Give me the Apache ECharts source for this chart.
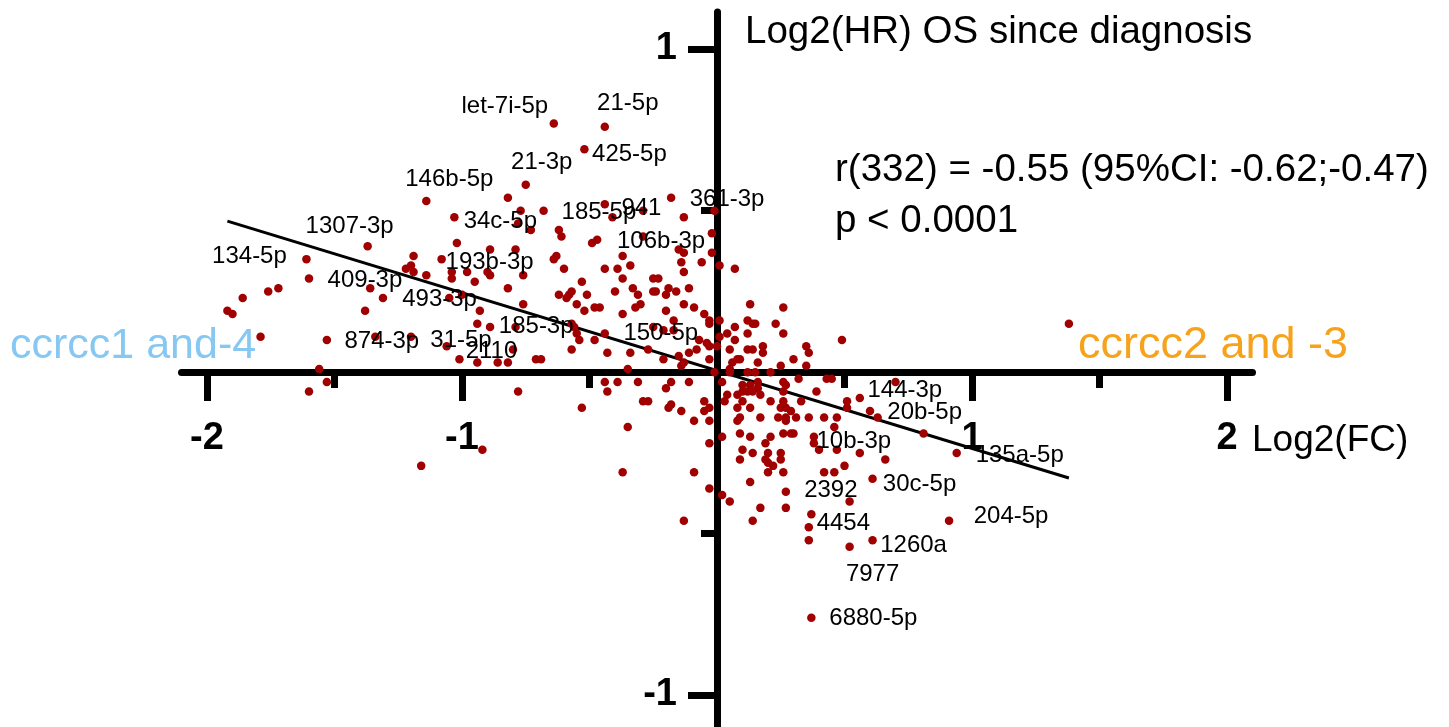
<!DOCTYPE html>
<html>
<head>
<meta charset="utf-8">
<script src="https://cdn.jsdelivr.net/npm/echarts@6/dist/echarts.min.js"></script>
<style>
  html, body { margin: 0; padding: 0; background: #fff; }
  #main { width: 1449px; height: 727px; }
</style>
</head>
<body>
<div id="main"></div>
<script>
// log2(FC) vs log2(HR) for the miRNAs
var points = [
  [-0.82,0.54],[-0.77,0.50],[-0.68,0.50],[-0.78,0.46],[-0.73,0.44],[-0.61,0.42],[-0.44,0.52],[-0.29,0.50],
  [-0.13,0.48],[-0.01,0.50],[-0.02,0.43],[-0.49,0.40],[-0.47,0.41],[-0.15,0.38],[-0.13,0.37],[-0.14,0.34],
  [-0.06,0.34],[-0.02,0.37],[0.01,0.33],[0.07,0.32],[-0.13,0.31],[-0.79,0.38],[-0.64,0.35],[-0.63,0.36],
  [-0.60,0.32],[-0.76,0.30],[-0.44,0.32],[-0.39,0.32],[-0.37,0.36],[-0.34,0.33],[-0.37,0.29],[-0.25,0.29],
  [-0.23,0.29],[-0.19,0.26],[-0.11,0.26],[-0.53,0.28],[-0.82,0.26],[-0.57,0.25],[-0.40,0.25],[-0.33,0.26],
  [-1.60,0.29],[-1.19,0.36],[-1.20,0.33],[-1.22,0.32],[-1.14,0.30],[-0.89,0.38],[-1.02,0.40],[-1.04,0.31],
  [-1.04,0.29],[-0.98,0.31],[-0.95,0.28],[-0.90,0.31],[-0.89,0.30],[-1.72,0.26],[-1.76,0.25],[-1.36,0.26],
  [-1.86,0.23],[-1.92,0.19],[-1.90,0.18],[-1.79,0.11],[-1.56,0.01],[-1.53,-0.03],[-1.60,-0.06],[-1.38,0.19],
  [-1.34,0.11],[-1.06,0.08],[-0.94,0.03],[-0.94,0.15],[-0.89,0.14],[-0.93,0.19],[-1.05,0.23],[-1.00,0.24],
  [-0.86,0.03],[-0.92,-0.24],[-1.16,-0.29],
  [-0.62,0.24],[-0.59,0.23],[-0.58,0.24],[-0.55,0.21],[-0.51,0.24],[-0.52,0.19],[-0.48,0.20],[-0.46,0.20],
  [-0.31,0.24],[-0.30,0.21],[-0.32,0.20],[-0.37,0.18],[-0.25,0.25],[-0.24,0.25],[-0.20,0.24],[-0.16,0.25],
  [-0.13,0.21],[-0.09,0.20],[-0.20,0.19],[-0.05,0.18],[-0.03,0.16],[-0.03,0.15],[0.01,0.16],[-0.17,0.16],
  [-0.25,0.14],[-0.21,0.13],[-0.17,0.13],[-0.57,0.15],[-0.56,0.14],[-0.55,0.12],[-0.54,0.10],[-0.57,0.07],
  [-0.48,0.10],[-0.43,0.06],[-0.34,0.06],[-0.35,0.01],[-0.27,0.07],[-0.21,0.04],[-0.15,0.05],[-0.14,0.02],
  [-0.13,0.03],[-0.11,0.06],[-0.07,0.10],[-0.04,0.09],[-0.03,0.08],[-0.08,0.07],[-0.03,0.04],[0.00,0.08],
  [-0.01,0.00],[0.01,0.11],[-0.71,0.04],[-0.69,0.04],[-0.79,0.14],[-0.82,0.03],[-0.80,0.07],
  [0.04,0.12],[0.07,0.14],[0.07,0.10],[0.05,0.07],[0.08,0.04],[0.06,0.03],[0.05,0.01],[0.13,0.21],
  [0.12,0.16],[0.14,0.15],[0.15,0.15],[0.12,0.12],[0.12,0.07],[0.14,0.07],[0.16,0.03],[0.18,0.08],
  [0.18,0.06],[0.26,0.20],[0.23,0.15],[0.26,0.12],[0.30,0.04],[0.35,0.08],[0.36,0.06],[0.35,0.02],
  [0.25,0.02],[0.21,0.00],[0.12,0.00],[0.15,0.00],[0.09,0.04],[0.49,0.10],[0.43,-0.02],[0.45,-0.02],
  [0.32,-0.02],[1.38,0.15],[0.05,0.00],
  [-0.78,-0.06],[-0.53,-0.11],[-0.44,-0.03],[-0.43,-0.06],[-0.39,-0.03],[-0.31,-0.03],[-0.29,-0.09],[-0.27,-0.09],
  [-0.20,-0.05],[-0.18,-0.03],[-0.11,-0.03],[-0.19,-0.11],[-0.18,-0.10],[-0.14,-0.12],[-0.05,-0.09],[-0.03,-0.11],
  [-0.05,-0.12],[-0.09,-0.15],[-0.03,-0.15],[-0.35,-0.17],[0.02,-0.20],[-0.03,-0.22],[-0.37,-0.31],[-0.09,-0.31],
  [-0.03,-0.36],[-0.13,-0.46],[0.02,-0.38],[0.05,-0.40],[0.02,-0.03],
  [0.10,-0.04],[0.10,-0.06],[0.12,-0.06],[0.13,-0.04],[0.14,-0.06],[0.16,-0.03],[0.16,-0.05],[0.17,-0.07],
  [0.04,-0.07],[0.03,-0.09],[0.08,-0.07],[0.10,-0.09],[0.13,-0.11],[0.08,-0.11],[0.09,-0.14],[0.08,-0.15],
  [0.17,-0.14],[0.21,-0.09],[0.26,-0.03],[0.27,-0.04],[0.26,-0.06],[0.33,-0.09],[0.26,-0.09],[0.27,-0.11],
  [0.25,-0.11],[0.24,-0.14],[0.27,-0.14],[0.27,-0.15],[0.31,-0.14],[0.29,-0.12],[0.36,-0.14],[0.39,-0.06],
  [0.42,-0.14],[0.47,-0.14],[0.51,-0.09],[0.51,-0.11],[0.60,-0.12],[0.46,-0.17],[0.70,-0.03],[0.81,-0.19],
  [0.09,-0.19],[0.13,-0.20],[0.21,-0.20],[0.19,-0.22],[0.26,-0.19],[0.29,-0.19],[0.30,-0.19],[0.38,-0.20],
  [0.38,-0.22],[0.40,-0.24],[0.56,-0.25],[0.66,-0.27],[0.10,-0.24],[0.14,-0.25],[0.09,-0.27],[0.20,-0.25],
  [0.19,-0.27],[0.20,-0.28],[0.25,-0.25],[0.25,-0.27],[0.22,-0.29],[0.20,-0.31],[0.26,-0.31],[0.42,-0.31],
  [0.46,-0.31],[0.50,-0.29],[0.13,-0.34],[0.27,-0.42],[0.17,-0.42],[0.14,-0.46],[0.52,-0.40],[0.36,-0.48],
  [0.36,-0.52]
];

// named miRNAs
var labelNames = ['let-7i-5p','21-5p','425-5p','21-3p','146b-5p','1307-3p','134-5p','34c-5p','185-5p','941',
  '361-3p','106b-3p','409-3p','193b-3p','493-3p','185-3p','874-3p','31-5p','2110','150-5p',
  '144-3p','20b-5p','10b-3p','135a-5p','30c-5p','2392','4454','1260a','7977','204-5p','6880-5p'];
var labelPoints = [
  [-0.64,0.77],[-0.44,0.76],[-0.52,0.69],[-0.75,0.58],[-1.14,0.53],[-1.37,0.39],[-1.61,0.35],[-1.03,0.48],
  [-0.62,0.44],[-0.41,0.48],[-0.18,0.54],[-0.29,0.42],[-1.31,0.23],[-1.08,0.35],[-1.19,0.31],[-0.76,0.21],
  [-1.53,0.10],[-1.20,0.11],[-1.01,0.04],[-0.44,0.12],
  [0.56,-0.08],[0.63,-0.14],[0.47,-0.24],[0.94,-0.25],[0.61,-0.33],[0.27,-0.37],[0.37,-0.44],[0.61,-0.52],
  [0.52,-0.54],[0.91,-0.46],[0.37,-0.76]
];
// where each name sits relative to its dot (px)
var labelOffsets = [
  [-49,-17],[23,-23],[45,5],[16,-22],[23,-22],[-18,-20],[-57,-3],[46,4],
  [40,-18],[29,-9],[56,2],[18,5],[-18,-18],[48,3],[26,27],[13,22],
  [55,1],[50,4],[32,-8],[56,0],
  [45,-8],[47,-5],[17,-8],[63,2],[47,6],[45,-1],[32,9],[41,5],
  [23,28],[62,-4],[62,1]
];

// regression line
var fitSlope = -0.241;
var fitIntercept = 0.005;

var xTicks = [-2, -1, 1, 2];
var yTicks = [-1, 1];

var all = points.concat(labelPoints);
var xs = all.map(function (p) { return p[0]; });
var xMin = Math.min.apply(null, xs), xMax = Math.max.apply(null, xs);
var fitLine = [[xMin, fitIntercept + fitSlope * xMin], [xMax, fitIntercept + fitSlope * xMax]];

var dotColor = '#a00000';
var font = '"Liberation Sans", Arial, sans-serif';

var labeledData = labelPoints.map(function (p, i) {
  return {
    value: p,
    name: labelNames[i],
    label: { offset: labelOffsets[i] }
  };
});

var tickStyle = { color: '#000', width: 7 };
var hidden = { show: false };

var chart = echarts.init(document.getElementById('main'), null, { renderer: 'canvas' });

var option = {
  animation: false,
  backgroundColor: '#fff',
  textStyle: { fontFamily: font },
  grid: [
    // 0: data + the two crossing axis lines
    { left: 181.5, top: 12, width: 1071, height: 722, containLabel: false, outerBoundsMode: 'none' },
    // 1: x ticks/labels, bottom edge sits on y = 0
    { left: 207, top: 49, width: 1020, height: 323, containLabel: false, outerBoundsMode: 'none' },
    // 2: y ticks/labels, left edge sits on x = 0
    { left: 717, top: 49, width: 510, height: 646, containLabel: false, outerBoundsMode: 'none' }
  ],
  xAxis: [
    {
      gridIndex: 0, type: 'value', min: -2.1, max: 2.1,
      axisLine: { show: true, onZero: true, lineStyle: { color: '#000', width: 7 } },
      axisTick: hidden, axisLabel: hidden, splitLine: hidden
    },
    {
      gridIndex: 1, type: 'value', min: -2, max: 2, interval: 1, position: 'bottom',
      axisLine: { show: false, onZero: false },
      axisTick: { show: true, length: 29, lineStyle: tickStyle },
      minorTick: { show: true, splitNumber: 2, length: 16, lineStyle: tickStyle },
      axisLabel: {
        margin: 48, fontSize: 38, fontWeight: 'bold', color: '#000', fontFamily: font,
        formatter: function (v) { return xTicks.indexOf(v) >= 0 ? String(v) : ''; }
      },
      splitLine: hidden,
      name: 'Log2(FC)', nameLocation: 'end', nameGap: 25,
      nameTextStyle: { fontSize: 37, color: '#000', fontFamily: font, align: 'left', verticalAlign: 'top', padding: [50, 0, 0, 0] }
    },
    {
      gridIndex: 2, type: 'value', min: 0, max: 2, show: false
    }
  ],
  yAxis: [
    {
      gridIndex: 0, type: 'value', min: -1.12, max: 1.115,
      axisLine: { show: true, onZero: true, lineStyle: { color: '#000', width: 7 } },
      axisTick: hidden, axisLabel: hidden, splitLine: hidden
    },
    {
      gridIndex: 1, type: 'value', min: 0, max: 1, show: false
    },
    {
      gridIndex: 2, type: 'value', min: -1, max: 1, interval: 1, position: 'left',
      axisLine: { show: false, onZero: false },
      axisTick: { show: true, length: 29, lineStyle: tickStyle },
      minorTick: { show: true, splitNumber: 2, length: 16, lineStyle: tickStyle },
      axisLabel: {
        margin: 40, fontSize: 38, fontWeight: 'bold', color: '#000', fontFamily: font,
        formatter: function (v) { return yTicks.indexOf(v) >= 0 ? String(v) : ''; }
      },
      splitLine: hidden,
      name: 'Log2(HR) OS since diagnosis', nameLocation: 'end', nameGap: 17,
      nameTextStyle: { fontSize: 38.5, color: '#000', fontFamily: font, align: 'left', verticalAlign: 'middle', padding: [0, 0, 0, 28] }
    }
  ],
  graphic: [
    { type: 'text', left: 10, top: 325, z: 10,
      style: { text: 'ccrcc1 and-4', fill: '#86c8f2', fontSize: 43, fontFamily: font } },
    { type: 'text', left: 1078, top: 323, z: 10,
      style: { text: 'ccrcc2 and -3', fill: '#f7a21b', fontSize: 45, fontFamily: font } },
    { type: 'text', left: 835, top: 151, z: 10,
      style: { text: 'r(332) = -0.55 (95%CI: -0.62;-0.47)', fill: '#000', fontSize: 38.5, fontFamily: font } },
    { type: 'text', left: 835, top: 202, z: 10,
      style: { text: 'p < 0.0001', fill: '#000', fontSize: 38.5, fontFamily: font } }
  ],
  series: [
    {
      type: 'line', xAxisIndex: 0, yAxisIndex: 0, data: fitLine,
      symbol: 'none', z: 2, silent: true,
      lineStyle: { color: '#000', width: 3 }
    },
    {
      type: 'scatter', xAxisIndex: 0, yAxisIndex: 0, data: points,
      symbolSize: 8.5, z: 3,
      itemStyle: { color: dotColor, opacity: 1 }
    },
    {
      type: 'scatter', xAxisIndex: 0, yAxisIndex: 0, data: labeledData,
      symbolSize: 8.5, z: 4,
      itemStyle: { color: dotColor, opacity: 1 },
      label: {
        show: true, position: 'inside', formatter: '{b}',
        fontSize: 24, color: '#000', textBorderWidth: 0, fontFamily: font
      }
    }
  ]
};

chart.setOption(option);
</script>
</body>
</html>
